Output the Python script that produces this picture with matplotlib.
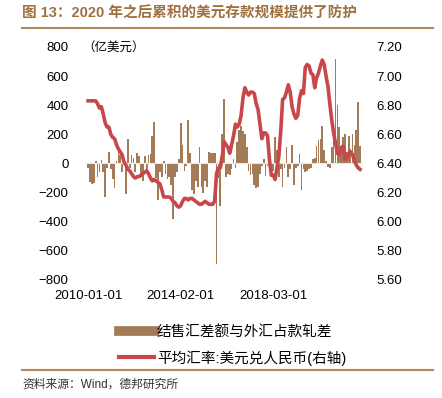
import matplotlib
matplotlib.use("Agg")
import matplotlib.pyplot as plt
from matplotlib.lines import Line2D

plt.rcParams['font.family'] = ['Liberation Sans', 'Noto Sans CJK SC']
plt.rcParams['axes.unicode_minus'] = True

# monthly, 2010-01 .. 2022-01
balance = [
    -30, -130, -140, -135, 15, -95, -60, 25, -60, -230, -30, 80,      # 2010
    -40, -110, -165, 20, 90, 60, -60, 30, -210, 170, -30, 60,         # 2011
    40, -60, 70, 50, -90, -120, 50, -40, 60, 65, 190, 285,            # 2012
    -100, -250, -60, -95, 15, -70, -110, -90, -150, -380, -90, -60,   # 2013
    30, 275, 125, -50, -20, 300, 70, -180, -210, -120, -160, 115,     # 2014
    -160, -200, -120, -160, 80, 70, 75, 75, -690, -100, -290, 200,    # 2015
    445, -95, -70, -80, -40, 30, -30, 150, 230, 260, 220, 200,        # 2016
    110, -50, -80, -70, -150, -165, -160, -70, -20, 30, -85, -20,     # 2017
    -30, -95, -50, 180, 90, -95, -40, -160, -30, 110, -95, -40,       # 2018
    125, -150, -30, -20, 65, -185, -40, -60, -50, -40, -30, 30,       # 2019
    40, 120, 160, 170, 260, 90, 20, -25, -30, 110, 160, 720,          # 2020
    400, 250, 120, 180, 200, 80, 190, 100, 200, 130, 230, 425,        # 2021
    120,                                                              # 2022
]
rate = [
    6.83, 6.83, 6.83, 6.83, 6.83, 6.81, 6.78, 6.79, 6.74, 6.68, 6.65, 6.65,
    6.60, 6.58, 6.57, 6.53, 6.50, 6.48, 6.46, 6.41, 6.39, 6.36, 6.35, 6.33,
    6.31, 6.30, 6.31, 6.31, 6.32, 6.33, 6.34, 6.35, 6.33, 6.30, 6.28, 6.29,
    6.28, 6.27, 6.26, 6.22, 6.17, 6.17, 6.17, 6.17, 6.16, 6.14, 6.13, 6.11,
    6.10, 6.11, 6.14, 6.16, 6.16, 6.15, 6.16, 6.16, 6.15, 6.14, 6.13, 6.12,
    6.12, 6.13, 6.14, 6.13, 6.12, 6.12, 6.12, 6.14, 6.33, 6.37, 6.37, 6.45,
    6.55, 6.53, 6.51, 6.47, 6.53, 6.59, 6.67, 6.65, 6.67, 6.73, 6.85, 6.92,
    6.89, 6.87, 6.89, 6.89, 6.88, 6.81, 6.77, 6.67, 6.57, 6.61, 6.61, 6.59,
    6.43, 6.32, 6.32, 6.29, 6.37, 6.45, 6.62, 6.84, 6.85, 6.89, 6.94, 6.89,
    6.79, 6.74, 6.71, 6.73, 6.85, 6.90, 6.88, 7.06, 7.08, 7.07, 7.02, 7.01,
    6.92, 6.99, 7.02, 7.07, 7.11, 7.08, 7.00, 6.93, 6.81, 6.70, 6.61, 6.54,
    6.47, 6.46, 6.51, 6.52, 6.43, 6.43, 6.47, 6.48, 6.46, 6.42, 6.39, 6.37,
    6.36,
]
tick_pos = [0, 49, 98]
tick_labels = ['2010-01-01', '2014-02-01', '2018-03-01']
left_ticks = list(range(-800, 801, 200))
right_ticks = [5.6, 5.8, 6.0, 6.2, 6.4, 6.6, 6.8, 7.0, 7.2]

bar_name = '结售汇差额与外汇占款轧差'
line_name = '平均汇率:美元兑人民币(右轴)'
title = '图 13：2020 年之后累积的美元存款规模提供了防护'
source = '资料来源：Wind，德邦研究所'

bar_color = '#A47B57'
line_color = '#C8474A'
brown = '#B38760'

x = list(range(len(balance)))

fig = plt.figure(figsize=(4.42, 3.98), dpi=100)
ax = fig.add_axes([0.193, 0.2965, 0.628, 0.5855])
ax.bar(x, balance, width=0.9, color=bar_color, zorder=2)
ax.axhline(0, color='#eee6de', lw=0.8, zorder=3)
ax.set_xlim(-1.5, 145.5)
ax.set_ylim(-800, 800)
ax.set_yticks(left_ticks)
ax.set_xticks(tick_pos)
ax.set_xticklabels(tick_labels)
ax.tick_params(axis='y', length=0, pad=12, labelsize=9.5)
ax.tick_params(axis='x', length=0, pad=7, labelsize=9.5)
for s in ax.spines.values():
    s.set_visible(False)

ax2 = ax.twinx()
ax2.plot(x, rate, color=line_color, lw=2.6, zorder=4)
ax2.set_ylim(5.6, 7.2)
ax2.set_yticks(right_ticks)
ax2.set_yticklabels(['%.2f' % v for v in right_ticks])
ax2.tick_params(axis='y', length=0, pad=10, labelsize=9.5)
for s in ax2.spines.values():
    s.set_visible(False)

fig.text(82 / 442, 1 - 48 / 398, '（亿美元）', fontsize=9, va='center')

fig.text(22 / 442, 1 - 14 / 398, title, fontsize=10.5, fontweight='bold',
         color='#A0703F', va='center')
fig.add_artist(Line2D([22 / 442, 433 / 442], [1 - 28 / 398] * 2, color=brown, lw=1.5))
fig.add_artist(Line2D([22 / 442, 433 / 442], [1 - 370 / 398] * 2, color=brown, lw=1.5))
fig.text(22 / 442, 1 - 385 / 398, source, fontsize=8.5, va='center', color='#333333')

handles = [Line2D([], [], color=bar_color, lw=7),
           Line2D([], [], color=line_color, lw=3)]
fig.legend(handles, [bar_name, line_name], loc='upper left',
           bbox_to_anchor=(106 / 442, 1 - 312 / 398), frameon=False,
           fontsize=10.5, handlelength=2.4, handletextpad=0.2, labelspacing=0.75)

fig.savefig('out.png', dpi=100)
